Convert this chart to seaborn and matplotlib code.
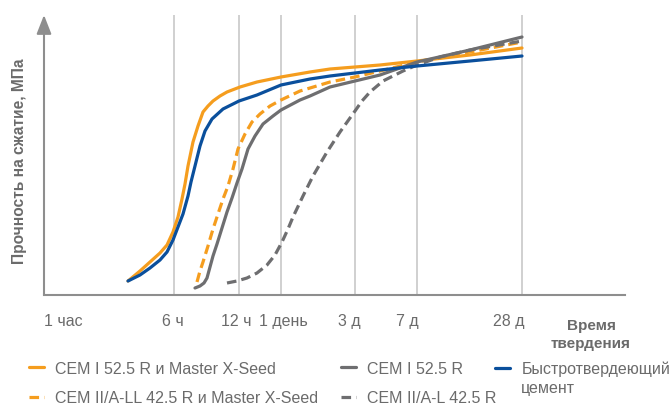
import matplotlib.pyplot as plt
import pandas as pd
import seaborn as sns

sns.set_style("white")
plt.rcParams["font.family"] = ["Liberation Sans", "DejaVu Sans"]

# schematic time axis (position along the axis) and relative strength
names = ["CEM I 52.5 R и Master X-Seed",
         "CEM II/A-LL 42.5 R и Master X-Seed",
         "CEM I 52.5 R",
         "CEM II/A-L 42.5 R",
         "Быстротвердеющий"]

seed_52_x = [84, 96, 106, 116, 123, 129, 134, 138, 141, 144, 149, 154, 159, 164, 169, 176, 183,
             196, 213, 237, 266, 286, 311, 336, 373, 426, 478]
seed_52_y = [14, 24, 33, 42, 50, 63, 78, 96, 111, 129, 153, 169, 183, 189, 194, 199, 203,
             208, 213, 218, 223, 226, 228, 230, 234, 240, 247]

seed_42_x = [153, 156, 159, 164, 169, 174, 179, 184, 189, 194, 201, 208, 216, 226, 237, 256,
             266, 286, 311, 336, 373, 426, 478]
seed_42_y = [13, 24, 33, 49, 66, 81, 96, 109, 126, 146, 161, 173, 181, 189, 195, 204,
             207, 213, 218, 224, 233, 243, 253]

cem_52_x = [151, 156, 160, 163, 166, 169, 173, 178, 183, 188, 193, 198, 204, 211, 219, 229,
            237, 256, 266, 286, 311, 336, 373, 426, 478]
cem_52_y = [7, 9, 12, 17, 28, 39, 51, 67, 83, 97, 112, 126, 146, 159, 171, 179,
            185, 195, 199, 208, 214, 220, 233, 245, 258]

cem_42_x = [183, 193, 203, 213, 223, 231, 238, 244, 249, 259, 269, 283, 296, 311, 318, 326,
            339, 359, 373, 396, 426, 478]
cem_42_y = [12, 14, 17, 22, 30, 40, 53, 66, 78, 99, 119, 143, 163, 184, 194, 203,
            214, 224, 230, 238, 245, 254]

rapid_x = [84, 96, 106, 116, 123, 129, 134, 139, 144, 147, 151, 156, 161, 168, 179, 195,
           213, 237, 266, 286, 311, 336, 373, 426, 478]
rapid_y = [14, 20, 27, 35, 43, 55, 68, 81, 99, 113, 129, 149, 164, 176, 186, 194,
           200, 210, 216, 219, 222, 225, 229, 234, 239]

tick_pos = [19, 129, 192, 239, 305, 363, 465]
tick_labels = ["1 час", "6 ч", "12 ч", "1 день", "3 д", "7 д", "28 д"]
grid_pos = [130, 195, 237, 311, 373, 478]

xs = [seed_52_x, seed_42_x, cem_52_x, cem_42_x, rapid_x]
ys = [seed_52_y, seed_42_y, cem_52_y, cem_42_y, rapid_y]
df = pd.concat([pd.DataFrame({"t": x, "s": y, "name": n}) for n, x, y in zip(names, xs, ys)])

orange, gray, blue = "#F59D1E", "#6E6E70", "#0A4F9C"
palette = dict(zip(names, [orange, orange, gray, gray, blue]))
dashes = dict(zip(names, ["", (3, 1.6), "", (3, 1.6), ""]))
text_c = "#6B6B6B"
axis_c = "#8E8E8E"

fig = plt.figure(figsize=(6.72, 4.06), dpi=100)
ax = fig.add_axes([44 / 672, 110 / 406, 581 / 672, 280 / 406])

for g in grid_pos:
    ax.axvline(g, color="#C4C4C4", lw=1.1, zorder=0)

sns.lineplot(data=df, x="t", y="s", hue="name", style="name", hue_order=names, style_order=names,
             palette=palette, dashes=dashes, sort=False, estimator=None, lw=2.3,
             solid_joinstyle="round", solid_capstyle="round", ax=ax)

ax.set_xlim(0, 581)
ax.set_ylim(0, 280)
ax.set_yticks([])
ax.set_xticks(tick_pos)
ax.set_xticklabels(tick_labels, fontsize=11.5, color=text_c)
ax.tick_params(axis="x", length=0, pad=13)
ax.set_xlabel("")
for s in ["top", "right", "left"]:
    ax.spines[s].set_visible(False)
ax.spines["bottom"].set_color(axis_c)
ax.spines["bottom"].set_linewidth(1.5)
ax.annotate("", xy=(0, 1), xytext=(0, 0), xycoords="axes fraction",
            arrowprops=dict(arrowstyle="-|>,head_length=1.15,head_width=0.45", mutation_scale=10,
                            color=axis_c, lw=1.5, shrinkA=0, shrinkB=0), annotation_clip=False)

ax.set_ylabel("Прочность на сжатие, МПа", fontsize=11.2, fontweight="bold", color=text_c)
ax.yaxis.set_label_coords(-0.03, 0.483)
fig.text(591 / 672, 71 / 406, "Время\nтвердения", ha="center", va="center",
         fontsize=11, fontweight="bold", color=text_c, linespacing=1.3)

# legend: first four series in two columns, rapid cement on its own at the right
old = ax.get_legend()
handles = old.legend_handles
labels = [t.get_text() for t in old.get_texts()]
old.remove()
leg_kw = dict(loc="upper left", bbox_transform=fig.transFigure, frameon=False, fontsize=11.5,
              labelcolor=text_c, handlelength=0.95, handletextpad=0.7, labelspacing=0.9,
              borderpad=0, borderaxespad=0)
leg1 = ax.legend(handles[:4], labels[:4], ncol=2, columnspacing=1.4,
                 bbox_to_anchor=(29 / 672, 44 / 406), **leg_kw)
ax.add_artist(leg1)
leg2 = ax.legend(handles[4:], labels[4:], bbox_to_anchor=(495 / 672, 44 / 406), **leg_kw)
# second line of the label, hung under the first so the marker stays on the first line
ax.annotate("цемент", xy=(0, 0), xycoords=leg2.get_texts()[0], xytext=(0, -2.5),
            textcoords="offset points", va="top", ha="left", fontsize=11.5, color=text_c,
            zorder=10, annotation_clip=False)

fig.savefig("out.png", dpi=100)
